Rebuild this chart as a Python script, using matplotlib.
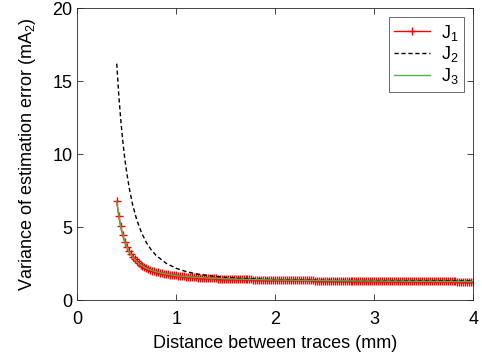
import matplotlib
matplotlib.use("Agg")
import matplotlib.pyplot as plt
import numpy as np

plt.rcParams["font.family"] = ["Liberation Sans", "DejaVu Sans"]
plt.rcParams["mathtext.fontset"] = "custom"
plt.rcParams["mathtext.rm"] = "Liberation Sans"
plt.rcParams["mathtext.it"] = "Liberation Sans"

# J1: sampled every 0.02 mm from 0.40 to 4.00
x_j1 = np.round(np.arange(0.40, 4.0001, 0.02), 2)
j1 = [6.76, 5.78, 5.04, 4.46, 4.01, 3.66, 3.37, 3.15, 2.95, 2.79,
      2.65, 2.52, 2.42, 2.32, 2.24, 2.17, 2.11, 2.06, 2.01, 1.97,
      1.93, 1.90, 1.86, 1.83, 1.80, 1.78, 1.75, 1.73, 1.71, 1.69,
      1.68, 1.66, 1.64, 1.63, 1.62, 1.60, 1.59, 1.58, 1.57, 1.56,
      1.55, 1.54, 1.53, 1.52, 1.51, 1.51, 1.50, 1.50, 1.49, 1.48,
      1.48, 1.47, 1.47, 1.46, 1.46, 1.45, 1.45, 1.45, 1.44, 1.44,
      1.43, 1.43, 1.43, 1.42, 1.42, 1.42, 1.41, 1.41, 1.41, 1.40,
      1.40, 1.40, 1.39, 1.39, 1.39, 1.39, 1.38, 1.38, 1.38, 1.38,
      1.37,
      1.37, 1.37, 1.37, 1.36, 1.36, 1.36, 1.36, 1.35, 1.35, 1.35,
      1.35, 1.35, 1.35, 1.34, 1.34, 1.34, 1.34, 1.34, 1.34, 1.33,
      1.33, 1.33, 1.33, 1.33, 1.33, 1.32, 1.32, 1.32, 1.32, 1.32,
      1.32, 1.32, 1.32, 1.31, 1.31, 1.31, 1.31, 1.31, 1.31, 1.31,
      1.31, 1.30, 1.30, 1.30, 1.30, 1.30, 1.30, 1.30, 1.30, 1.30,
      1.30, 1.29, 1.29, 1.29, 1.29, 1.29, 1.29, 1.29, 1.29, 1.29,
      1.29, 1.28, 1.28, 1.28, 1.28, 1.28, 1.28, 1.28, 1.28, 1.28,
      1.28, 1.28, 1.28, 1.28, 1.28, 1.27, 1.27, 1.27, 1.27, 1.27,
      1.27, 1.27, 1.27, 1.27, 1.27, 1.27, 1.27, 1.27, 1.27, 1.27,
      1.27, 1.26, 1.26, 1.26, 1.26, 1.26, 1.26, 1.26, 1.26, 1.26]

x_j2 = [0.40, 0.42, 0.44, 0.46, 0.48, 0.50, 0.53, 0.56, 0.60, 0.65,
        0.70, 0.75, 0.80, 0.90, 1.00, 1.10, 1.20, 1.40, 1.60, 1.80,
        2.00, 2.50, 3.00, 3.50, 4.00]
j2 = [16.2, 14.11, 12.39, 10.96, 9.76, 8.76, 7.53, 6.55, 5.54, 4.61,
      3.93, 3.42, 3.04, 2.51, 2.17, 1.95, 1.79, 1.61, 1.50, 1.44,
      1.40, 1.35, 1.33, 1.32, 1.31]

x_j3 = [0.40, 0.44, 0.48, 0.52, 0.56, 0.60, 0.64, 0.68, 0.72, 0.80,
        0.88, 0.96, 1.04, 1.20, 1.40, 1.60, 1.80, 2.00, 2.50, 3.00,
        3.50, 4.00]
j3 = [6.76, 5.04, 4.01, 3.37, 2.95, 2.65, 2.42, 2.24, 2.11, 1.93,
      1.80, 1.71, 1.64, 1.55, 1.48, 1.43, 1.40, 1.37, 1.33, 1.30,
      1.28, 1.26]

fig = plt.figure(figsize=(4.82, 3.58), dpi=100)
ax = fig.add_axes([0.160, 0.162, 0.822, 0.815])

ax.plot(x_j1, j1, color="#ff0000", lw=1.0, marker="+", ms=6, mew=1.0,
        label=r"$\mathregular{J_1}$")
ax.plot(x_j2, j2, color="black", lw=1.0, ls=(0, (3, 2)),
        label=r"$\mathregular{J_2}$")
ax.plot(x_j3, j3, color="#55b04f", lw=1.0, label=r"$\mathregular{J_3}$")

ax.set_xlim(0, 4)
ax.set_ylim(0, 20)
ax.set_xticks([0, 1, 2, 3, 4])
ax.set_yticks([0, 5, 10, 15, 20])
ax.tick_params(direction="in", top=True, right=True, labelsize=13,
               color="#262626", length=4, width=0.6)
ax.tick_params(axis="x", pad=8)
for s in ax.spines.values():
    s.set_color("#262626")
    s.set_linewidth(0.6)

ax.set_xlabel("Distance between traces (mm)", fontsize=13, labelpad=5)
ax.set_ylabel(r"Variance of estimation error (mA$_\mathregular{2}$)", fontsize=13,
              labelpad=10)

leg = ax.legend(loc="upper right", fontsize=13, frameon=True, fancybox=False,
                edgecolor="#262626", handlelength=2.0, borderpad=0.3,
                labelspacing=0.1, handletextpad=0.6)
leg.get_frame().set_linewidth(0.6)

fig.savefig("out.png", dpi=100)
